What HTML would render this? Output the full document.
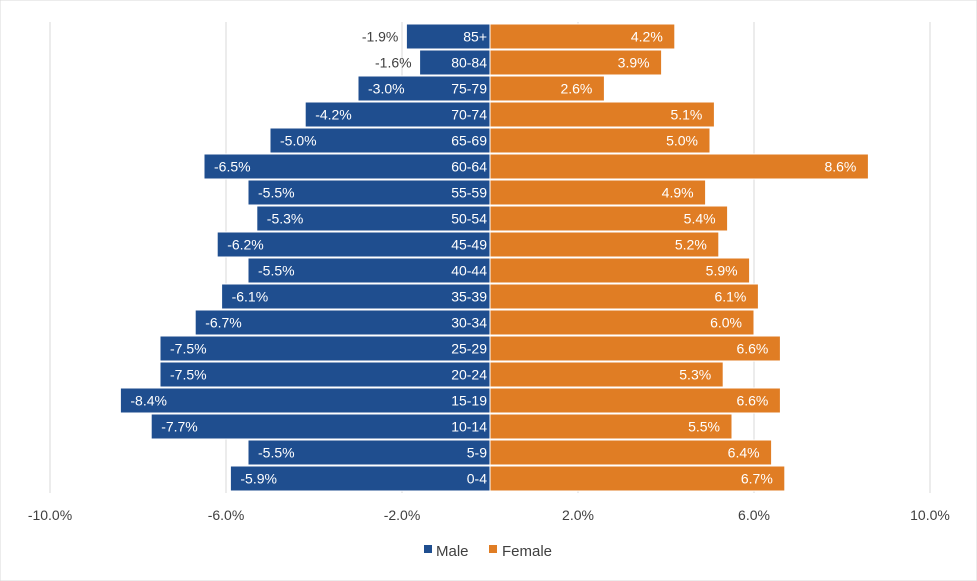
<!DOCTYPE html>
<html><head><meta charset="utf-8"><style>
html,body{margin:0;padding:0;background:#fff;}
svg{display:block;font-family:"Liberation Sans",sans-serif;}
</style></head><body>
<svg id="chart" width="977" height="581" viewBox="0 0 977 581">
<rect x="0" y="0" width="977" height="581" fill="#fff" stroke="#d9d9d9"/>
<g id="grid"></g><g id="bars"></g><g id="labels"></g><g id="axis"></g>
<g>
<rect x="424" y="545" width="8" height="8" fill="#1F4E8F"/>
<text x="436" y="556" font-size="15" fill="#404040">Male</text>
<rect x="489" y="545" width="8" height="8" fill="#E07D24"/>
<text x="502" y="556" font-size="15" fill="#404040">Female</text>
</g>
</svg>
<script>
const categories=["85+","80-84","75-79","70-74","65-69","60-64","55-59","50-54","45-49","40-44","35-39","30-34","25-29","20-24","15-19","10-14","5-9","0-4"];
const maleValues=[-1.9,-1.6,-3.0,-4.2,-5.0,-6.5,-5.5,-5.3,-6.2,-5.5,-6.1,-6.7,-7.5,-7.5,-8.4,-7.7,-5.5,-5.9];
const femaleValues=[4.2,3.9,2.6,5.1,5.0,8.6,4.9,5.4,5.2,5.9,6.1,6.0,6.6,5.3,6.6,5.5,6.4,6.7];
const tickValues=[-10,-6,-2,2,6,10];
const tickLabels=["-10.0%","-6.0%","-2.0%","2.0%","6.0%","10.0%"];
const NS="http://www.w3.org/2000/svg";
const x=v=>490+v*44;
const yTop=i=>24+i*26;
const bh=25;
function mk(tag,attrs,parent){const e=document.createElementNS(NS,tag);for(const k in attrs)e.setAttribute(k,attrs[k]);document.getElementById(parent).appendChild(e);return e;}
tickValues.forEach((t,i)=>{
 const g=mk('line',{x1:x(t),x2:x(t),y1:22,y2:493,stroke:'#d9d9d9','stroke-width':1},'grid');
 
 
 const l=mk('text',{x:x(t),y:520,'font-size':14,fill:'#404040','text-anchor':'middle'},'axis');
 l.textContent=tickLabels[i];
 
 
});
categories.forEach((c,i)=>{
 const m=maleValues[i],f=femaleValues[i],y=yTop(i),cy=y+bh/2+5;
 const mb=mk('rect',{x:x(m),y:y,width:x(0)-x(m),height:bh,fill:'#1F4E8F',stroke:'#fff','stroke-width':1},'bars');
 
 
 const fb=mk('rect',{x:x(0),y:y,width:x(f)-x(0),height:bh,fill:'#E07D24',stroke:'#fff','stroke-width':1},'bars');
 
 
 const out=Math.abs(m)<2.5;
 const ml=mk('text',{x:out?x(m)-8:x(m)+10,y:cy,'font-size':14,fill:out?'#404040':'#fff','text-anchor':out?'end':'start'},'labels');
 ml.textContent=m.toFixed(1)+'%';
 
 
 const fl=mk('text',{x:x(f)-12,y:cy,'font-size':14,fill:'#fff','text-anchor':'end'},'labels');
 fl.textContent=f.toFixed(1)+'%';
 
 
 const cl=mk('text',{x:487,y:cy,'font-size':14,fill:'#fff','text-anchor':'end'},'labels');
 cl.textContent=c;
 
 
});
</script>
</body></html>
